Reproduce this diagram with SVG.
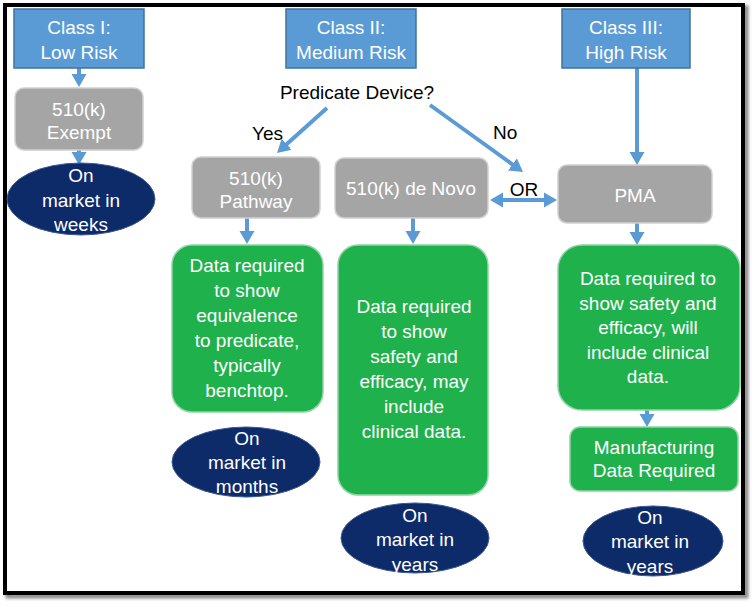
<svg xmlns="http://www.w3.org/2000/svg" width="753" height="606" viewBox="0 0 753 606">
<style>
text{font-family:"Liberation Sans",Arial,sans-serif;font-size:19px;text-anchor:middle}
.w{fill:#ffffff}
.k{fill:#000000}
.cls{fill:#5b9bd5;stroke:#41719c;stroke-width:1.5}
.gry{fill:#a5a5a5;stroke:#cfcfcf;stroke-width:1.5}
.grn{fill:#1fb14c;stroke:#8fd4a5;stroke-width:1.5}
.nav{fill:#0d2a69;stroke:#3b5691;stroke-width:1}
.ar{stroke:#5b9bd5;stroke-width:4;fill:none;marker-end:url(#ah)}
</style>
<defs>
<marker id="ah" markerUnits="userSpaceOnUse" markerWidth="14" markerHeight="16" refX="2" refY="8" orient="auto-start-reverse" viewBox="0 0 14 16">
<path d="M0,0.5 L13,8 L0,15.5 z" fill="#5b9bd5"/>
</marker>
<filter id="sh" x="-5%" y="-5%" width="110%" height="110%"><feGaussianBlur stdDeviation="1.5"/></filter>
</defs>
<rect x="0" y="0" width="753" height="606" fill="#ffffff"/>
<rect x="8" y="8" width="738" height="588" fill="none" stroke="#8a8a8a" stroke-width="5" filter="url(#sh)"/>
<rect x="5" y="5" width="738" height="588" fill="#ffffff" stroke="#000000" stroke-width="4"/>

<g id="connectors">
<line class="ar" x1="79" y1="68" x2="79" y2="76"/>
<line class="ar" x1="79" y1="150" x2="79" y2="154"/>
<line class="ar" x1="327" y1="108" x2="285.2" y2="145.6"/>
<line class="ar" x1="430" y1="105" x2="514.1" y2="165.6"/>
<line class="ar" x1="501" y1="200" x2="546" y2="200" style="marker-start:url(#ah)"/>
<line class="ar" x1="637" y1="68" x2="637" y2="154"/>
<line class="ar" x1="247" y1="218" x2="247" y2="233"/>
<line class="ar" x1="413" y1="218" x2="413" y2="233"/>
<line class="ar" x1="637" y1="223" x2="637" y2="234"/>
<line class="ar" x1="647" y1="410" x2="647" y2="416"/>
</g>

<g id="class1">
<rect class="cls" x="14" y="9" width="130" height="59"/>
<text class="w" x="79" y="34">Class I:</text>
<text class="w" x="79" y="59">Low Risk</text>
</g>
<g id="class2">
<rect class="cls" x="286" y="9" width="130" height="59"/>
<text class="w" x="351" y="34">Class II:</text>
<text class="w" x="351" y="59">Medium Risk</text>
</g>
<g id="class3">
<rect class="cls" x="562" y="9" width="128" height="59"/>
<text class="w" x="626" y="34">Class III:</text>
<text class="w" x="626" y="59">High Risk</text>
</g>

<g id="predicate">
<text class="k" x="357" y="99">Predicate Device?</text>
</g>
<g id="labels">
<text class="k" x="252" y="140" style="text-anchor:start">Yes</text>
<text class="k" x="493" y="139" style="text-anchor:start">No</text>
<text class="k" x="524" y="196">OR</text>
</g>

<g id="exempt">
<rect class="gry" x="15" y="88" width="128" height="62" rx="9"/>
<text class="w" x="79" y="116">510(k)</text>
<text class="w" x="79" y="139">Exempt</text>
</g>
<g id="pathway">
<rect class="gry" x="192" y="157" width="128" height="61" rx="9"/>
<text class="w" x="256" y="185">510(k)</text>
<text class="w" x="256" y="208">Pathway</text>
</g>
<g id="denovo">
<rect class="gry" x="335" y="158" width="153" height="60" rx="9"/>
<text class="w" x="411" y="195">510(k) de Novo</text>
</g>
<g id="pma">
<rect class="gry" x="558" y="165" width="154" height="58" rx="9"/>
<text class="w" x="635" y="202">PMA</text>
</g>

<g id="weeks">
<ellipse class="nav" cx="81" cy="199" rx="74" ry="36"/>
<text class="w" x="81" y="182">On</text>
<text class="w" x="81" y="207">market in</text>
<text class="w" x="81" y="231">weeks</text>
</g>

<g id="data-equivalence">
<rect class="grn" x="172" y="245" width="151" height="167" rx="20"/>
<text class="w" x="247" y="272">Data required</text>
<text class="w" x="247" y="297">to show</text>
<text class="w" x="247" y="322">equivalence</text>
<text class="w" x="247" y="347">to predicate,</text>
<text class="w" x="247" y="372">typically</text>
<text class="w" x="247" y="397">benchtop.</text>
</g>
<g id="months">
<ellipse class="nav" cx="246" cy="462" rx="74" ry="35"/>
<text class="w" x="247" y="445">On</text>
<text class="w" x="247" y="469">market in</text>
<text class="w" x="247" y="493">months</text>
</g>

<g id="data-denovo">
<rect class="grn" x="338" y="245" width="150" height="250" rx="20"/>
<text class="w" x="414" y="313">Data required</text>
<text class="w" x="414" y="338">to show</text>
<text class="w" x="414" y="363">safety and</text>
<text class="w" x="414" y="388">efficacy, may</text>
<text class="w" x="414" y="413">include</text>
<text class="w" x="414" y="438">clinical data.</text>
</g>
<g id="years2">
<ellipse class="nav" cx="415" cy="538" rx="74" ry="35"/>
<text class="w" x="415" y="522">On</text>
<text class="w" x="415" y="546">market in</text>
<text class="w" x="415" y="571">years</text>
</g>

<g id="data-pma">
<rect class="grn" x="558" y="245" width="182" height="165" rx="24"/>
<text class="w" x="648" y="285">Data required to</text>
<text class="w" x="648" y="310">show safety and</text>
<text class="w" x="648" y="334">efficacy, will</text>
<text class="w" x="648" y="359">include clinical</text>
<text class="w" x="648" y="383">data.</text>
</g>
<g id="manufacturing">
<rect class="grn" x="570" y="427" width="168" height="64" rx="10"/>
<text class="w" x="654" y="454">Manufacturing</text>
<text class="w" x="654" y="477">Data Required</text>
</g>
<g id="years3">
<ellipse class="nav" cx="653" cy="541" rx="70" ry="35"/>
<text class="w" x="650" y="524">On</text>
<text class="w" x="650" y="548">market in</text>
<text class="w" x="650" y="573">years</text>
</g>
</svg>
